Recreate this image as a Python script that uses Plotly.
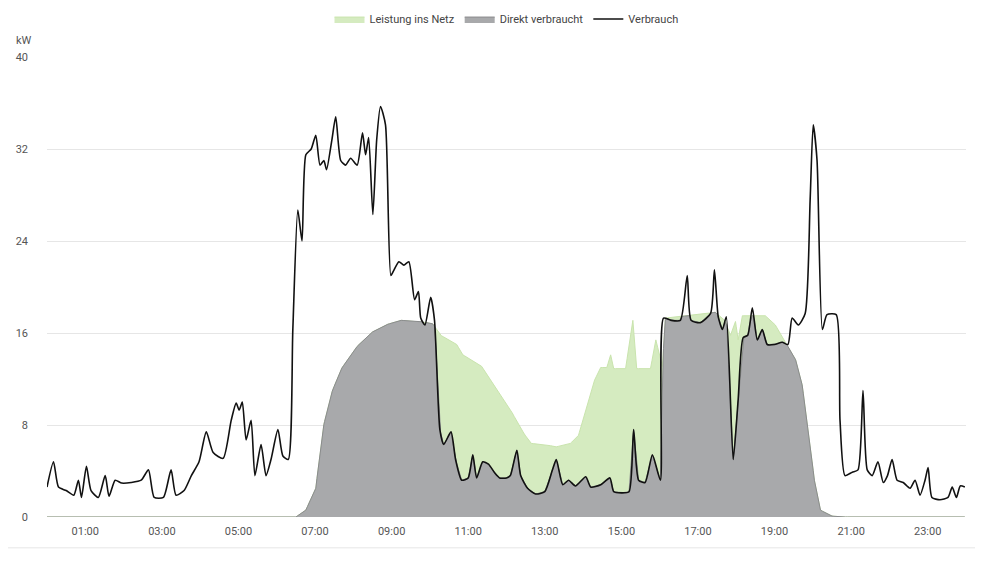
import numpy as np
import plotly.graph_objects as go

# consumption (Verbrauch), time in hours / kW
load_h = [0.0, 0.17, 0.3, 0.5, 0.7, 0.82, 0.9, 1.03, 1.15, 1.34, 1.52, 1.62, 1.78, 1.95, 2.2, 2.46, 2.65, 2.8, 3.04,
          3.24, 3.37, 3.58, 3.77, 3.97, 4.16, 4.34, 4.6, 4.81, 4.94, 5.02, 5.1, 5.2, 5.33, 5.43, 5.59, 5.72, 5.85,
          6.03, 6.16, 6.3, 6.42, 6.55, 6.66, 6.76, 6.9, 7.02, 7.13, 7.23, 7.3, 7.44, 7.54, 7.67, 7.8, 7.93, 8.1,
          8.24, 8.32, 8.4, 8.51, 8.61, 8.71, 8.84, 8.98, 9.05, 9.19, 9.32, 9.45, 9.6, 9.7, 9.76, 9.87, 10.02, 10.12,
          10.26, 10.36, 10.55, 10.67, 10.83, 11.0, 11.12, 11.22, 11.38, 11.53, 11.7, 11.82, 12.0, 12.1, 12.27, 12.37,
          12.55, 12.76, 13.0, 13.2, 13.3, 13.47, 13.62, 13.8, 14.07, 14.2, 14.46, 14.7, 14.8, 15.0, 15.2, 15.32,
          15.45, 15.62, 15.81, 16.02, 16.1, 16.3, 16.54, 16.72, 16.82, 17.06, 17.33, 17.43, 17.53, 17.64, 17.74,
          17.92, 18.05, 18.18, 18.3, 18.42, 18.55, 18.68, 18.81, 19.0, 19.2, 19.35, 19.46, 19.62, 19.8, 19.93, 20.01,
          20.11, 20.25, 20.37, 20.61, 20.71, 20.84, 21.03, 21.18, 21.31, 21.42, 21.55, 21.7, 21.84, 21.95, 22.07,
          22.2, 22.36, 22.54, 22.67, 22.8, 22.93, 23.01, 23.11, 23.32, 23.53, 23.64, 23.75, 23.85, 23.97]
load_kw = [2.6, 4.8, 2.6, 2.3, 1.9, 3.2, 1.7, 4.4, 2.3, 1.7, 3.6, 1.8, 3.2, 2.95, 3.0, 3.2, 4.1, 1.7, 1.7,
           4.1, 1.9, 2.3, 3.6, 4.8, 7.4, 5.6, 5.1, 8.4, 9.9, 9.3, 10.0, 6.7, 8.4, 3.6, 6.3, 3.6, 5.0,
           7.6, 5.3, 5.0, 16.3, 26.7, 24.0, 31.5, 32.0, 33.2, 30.6, 31.0, 30.2, 32.8, 34.8, 31.0, 30.6, 31.2, 30.6,
           33.4, 31.5, 33.0, 26.3, 32.8, 35.7, 34.1, 21.0, 21.4, 22.2, 21.9, 22.2, 18.9, 19.6, 17.3, 16.7, 19.1, 17.1,
           7.6, 6.3, 7.4, 5.0, 3.2, 3.4, 5.4, 3.4, 4.8, 4.6, 3.8, 3.4, 3.4, 3.6, 5.8, 3.6,
           2.5, 2.0, 2.2, 4.1, 5.0, 2.8, 3.2, 2.7, 3.5, 2.6, 2.8, 3.4, 2.2, 2.1, 2.2, 7.6,
           3.2, 3.0, 5.4, 3.2, 17.3, 17.1, 17.1, 21.0, 17.1, 16.9, 17.7, 21.5, 17.4, 16.3, 17.4,
           5.0, 10.2, 15.6, 15.8, 18.2, 15.4, 16.3, 15.0, 15.0, 15.2, 15.0, 17.3, 16.7, 17.7, 27.6, 34.1,
           31.0, 16.3, 17.6, 17.6, 8.4, 3.6, 3.9, 4.1, 11.0, 4.1, 3.6, 4.8, 3.0, 3.6, 5.0,
           3.2, 3.0, 2.5, 3.2, 1.9, 3.2, 4.3, 1.7, 1.5, 1.7, 2.6, 1.7, 2.7, 2.6]

# PV production (Leistung ins Netz + direkt verbraucht)
pv_h = [0.0, 6.5, 6.76, 7.02, 7.2, 7.41, 7.67, 8.06, 8.45, 8.84, 9.24, 9.76, 10.07, 10.28, 10.5, 10.7, 10.86,
        11.07, 11.33, 11.59, 11.85, 12.11, 12.37, 12.63, 13.0, 13.3, 13.67, 13.88, 14.07, 14.3, 14.46, 14.62,
        14.72, 14.8, 15.11, 15.3, 15.4, 15.76, 15.9, 16.07, 16.15, 17.06, 17.45, 17.7, 17.85, 17.98, 18.05,
        18.16, 18.76, 19.02, 19.28, 19.54, 19.72, 19.88, 20.04, 20.2, 20.46, 20.7, 24.0]
pv_kw = [0.0, 0.0, 0.6, 2.5, 7.6, 10.6, 12.8, 14.7, 16.0, 16.7, 17.1, 17.0, 16.8, 15.8, 15.4, 15.0, 14.1,
         13.7, 13.2, 11.9, 10.6, 9.3, 7.7, 6.4, 6.3, 6.1, 6.4, 7.1, 9.3, 11.9, 13.0, 13.0,
         14.1, 12.9, 12.9, 17.1, 12.9, 12.9, 15.4, 13.1, 17.3, 17.6, 17.8, 17.1, 15.8, 17.0, 15.4,
         17.5, 17.5, 16.7, 15.2, 13.8, 11.5, 7.6, 3.2, 0.6, 0.1, 0.0, 0.0]

tick_h = [1, 3, 5, 7, 9, 11, 13, 15, 17, 19, 21, 23]
tick_txt = ["01:00", "03:00", "05:00", "07:00", "09:00", "11:00", "13:00", "15:00", "17:00", "19:00", "21:00", "23:00"]
y_ticks = [0, 8, 16, 24, 32, 40]

grid_h = np.unique(np.concatenate([load_h, pv_h, np.arange(0, 24.01, 0.05)]))
grid_h = grid_h[grid_h <= 23.97]
pv_g = np.interp(grid_h, pv_h, pv_kw)
load_g = np.interp(grid_h, load_h, load_kw)
direct_g = np.minimum(pv_g, load_g)

fig = go.Figure()
fig.add_trace(go.Scatter(x=grid_h, y=pv_g, name="Leistung ins Netz", mode="lines",
                         line=dict(color="#c9e4ad", width=1), fill="tozeroy", fillcolor="#d5ebc0"))
fig.add_trace(go.Scatter(x=grid_h, y=direct_g, name="Direkt verbraucht", mode="lines",
                         line=dict(color="#8a8b8d", width=1), fill="tozeroy", fillcolor="#a8a9ab"))
fig.add_trace(go.Scatter(x=load_h, y=load_kw, name="Verbrauch", mode="lines",
                         line=dict(color="#111111", width=1.6, shape="spline", smoothing=0.6)))

# page body has an 8px margin, so the figure is shrunk and shifted accordingly
fig.update_layout(
    width=975, height=553, plot_bgcolor="white", paper_bgcolor="white",
    margin=dict(l=39, r=17, t=49, b=44, autoexpand=False),
    font=dict(family="Roboto, Arial, sans-serif", size=11, color="#555"),
    legend=dict(orientation="h", x=0.5, xanchor="center", y=0.98, yref="container", yanchor="middle",
                font=dict(size=11, color="#444")),
    showlegend=True,
)
fig.add_annotation(text="kW", xref="paper", yref="paper", x=-0.036, y=1.055, xanchor="left",
                   showarrow=False, font=dict(size=11, color="#555"))
fig.update_xaxes(range=[0, 24], tickvals=tick_h, ticktext=tick_txt, showgrid=False, zeroline=False,
                 showline=False, ticks="", ticklabelstandoff=6, automargin=False)
fig.update_yaxes(range=[0, 40], tickvals=y_ticks, showgrid=True, gridcolor="#e6e6e6", zeroline=False,
                 ticks="", ticklabelstandoff=18, automargin=False)
fig.add_shape(type="line", xref="paper", yref="paper", x0=-0.045, x1=1.02, y0=-0.067, y1=-0.067,
              line=dict(color="#e6e6e6", width=1))

fig.write_html("out.html")
